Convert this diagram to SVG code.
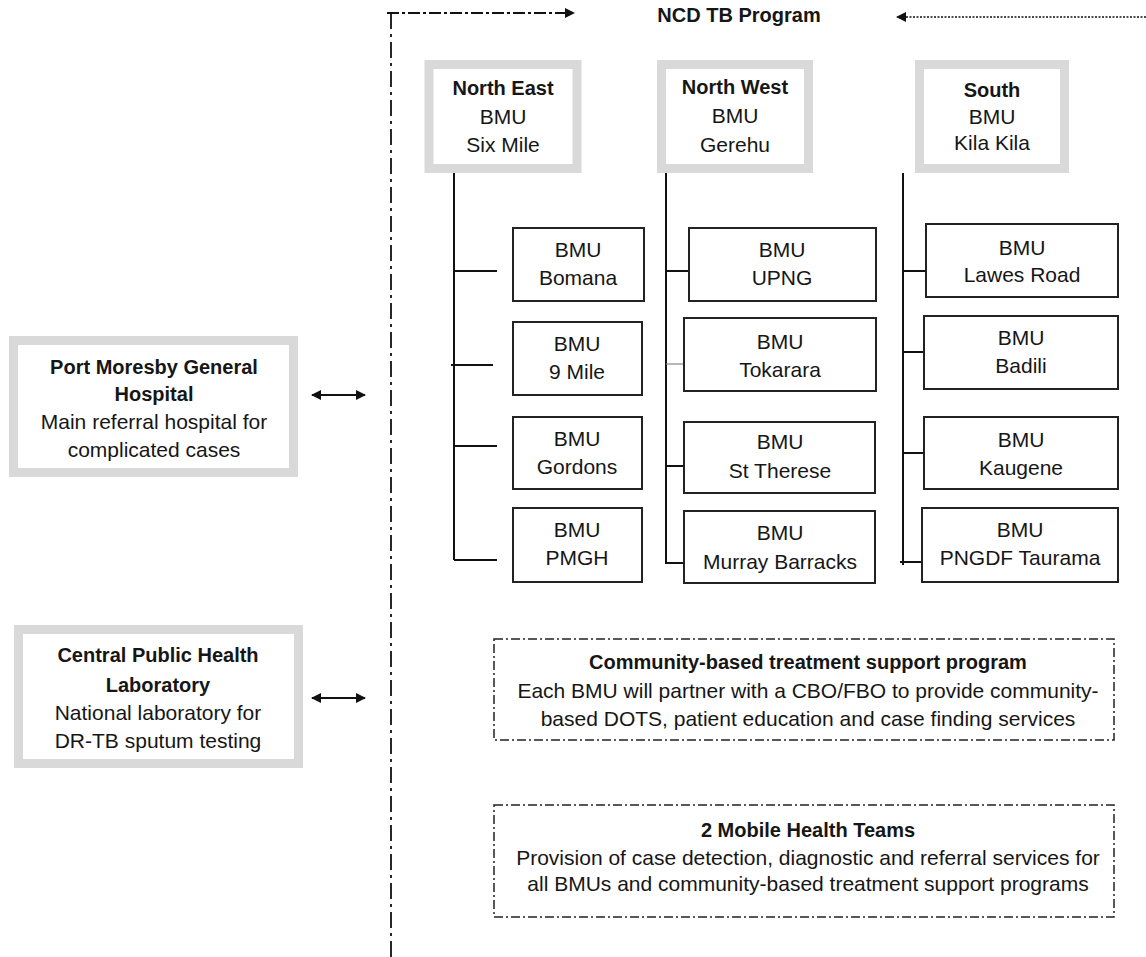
<svg xmlns="http://www.w3.org/2000/svg" width="1146" height="957" viewBox="0 0 1146 957">
<defs>
<style>
text{font-family:"Liberation Sans",Arial,sans-serif;fill:#161616;text-anchor:middle}
.b{font-weight:bold;font-size:20px}
.n{font-size:21px}
.gbox{fill:#fff;stroke:#d9d9d9;stroke-width:9}
.cbox{fill:#fff;stroke:#222;stroke-width:2}
.dbox{fill:none;stroke:#222;stroke-width:1.5;stroke-dasharray:9 3 2 3}
.ln{stroke:#111;stroke-width:2;fill:none}
</style>
<marker id="ah" viewBox="0 0 10 10" refX="9" refY="5" markerWidth="10" markerHeight="10" markerUnits="userSpaceOnUse" orient="auto-start-reverse">
<path d="M0,0 L10,5 L0,10 z" fill="#111"/>
</marker>
</defs>

<g id="connectors">
<path d="M387,13 H574" stroke="#111" stroke-width="1.8" stroke-dasharray="12 3 3 3" fill="none" marker-end="url(#ah)"/>
<path d="M391,13 V957" stroke="#111" stroke-width="1.8" stroke-dasharray="16 5 3 5" fill="none"/>
<path d="M1146,17 H897" stroke="#111" stroke-width="1.6" stroke-dasharray="2 1.5" fill="none" marker-end="url(#ah)"/>
<path d="M312,395 H365" stroke="#111" stroke-width="2" marker-start="url(#ah)" marker-end="url(#ah)"/>
<path d="M312,698 H365" stroke="#111" stroke-width="2" marker-start="url(#ah)" marker-end="url(#ah)"/>
<path class="ln" d="M454,173 V560 M454,271 H497 M451,365 H493 M454,446 H497 M454,560 H497"/>
<path class="ln" d="M666,173 V563 H684 M666,271 H689 M666,466 H684"/>
<path d="M666,364 H684" stroke="#888" stroke-width="1.2"/>
<path d="M695,389 H720" stroke="#111" stroke-width="3"/>
<path class="ln" d="M903,173 V565 M903,271 H930 M903,352 H930 M903,453 H930 M900,562 H927"/>
</g>

<g id="title"><text class="b" x="739" y="22">NCD TB Program</text></g>

<g id="ne"><rect class="gbox" x="429" y="64.5" width="148" height="104"/>
<text class="b" x="503" y="95">North East</text><text class="n" x="503" y="124">BMU</text><text class="n" x="503" y="152">Six Mile</text></g>
<g id="nw"><rect class="gbox" x="661.5" y="64.5" width="147" height="104"/>
<text class="b" x="735" y="94">North West</text><text class="n" x="735" y="123">BMU</text><text class="n" x="735" y="152">Gerehu</text></g>
<g id="south"><rect class="gbox" x="919.5" y="64.5" width="145" height="104"/>
<text class="b" x="992" y="97">South</text><text class="n" x="992" y="124">BMU</text><text class="n" x="992" y="150">Kila Kila</text></g>

<g id="bomana"><rect class="cbox" x="513" y="228" width="131" height="73"/><text class="n" x="578" y="257">BMU</text><text class="n" x="578" y="285">Bomana</text></g>
<g id="ninemile"><rect class="cbox" x="513" y="322" width="129" height="73"/><text class="n" x="577" y="351">BMU</text><text class="n" x="577" y="379">9 Mile</text></g>
<g id="gordons"><rect class="cbox" x="513" y="417" width="129" height="72"/><text class="n" x="577" y="446">BMU</text><text class="n" x="577" y="474">Gordons</text></g>
<g id="pmgh"><rect class="cbox" x="513" y="508" width="129" height="74"/><text class="n" x="577" y="537">BMU</text><text class="n" x="577" y="565">PMGH</text></g>

<g id="upng"><rect class="cbox" x="689" y="228" width="187" height="73"/><text class="n" x="782" y="257">BMU</text><text class="n" x="782" y="285">UPNG</text></g>
<g id="tokarara"><rect class="cbox" x="684" y="318" width="192" height="73"/><text class="n" x="780" y="349">BMU</text><text class="n" x="780" y="377">Tokarara</text></g>
<g id="sttherese"><rect class="cbox" x="684" y="422" width="191" height="71"/><text class="n" x="780" y="449">BMU</text><text class="n" x="780" y="478">St Therese</text></g>
<g id="murray"><rect class="cbox" x="684" y="511" width="191" height="72"/><text class="n" x="780" y="540">BMU</text><text class="n" x="780" y="569">Murray Barracks</text></g>

<g id="lawes"><rect class="cbox" x="926" y="224" width="192" height="73"/><text class="n" x="1022" y="255">BMU</text><text class="n" x="1022" y="282">Lawes Road</text></g>
<g id="badili"><rect class="cbox" x="924" y="316" width="194" height="73"/><text class="n" x="1021" y="345">BMU</text><text class="n" x="1021" y="373">Badili</text></g>
<g id="kaugene"><rect class="cbox" x="924" y="417" width="194" height="72"/><text class="n" x="1021" y="447">BMU</text><text class="n" x="1021" y="475">Kaugene</text></g>
<g id="pngdf"><rect class="cbox" x="922" y="508" width="196" height="74"/><text class="n" x="1020" y="537">BMU</text><text class="n" x="1020" y="565">PNGDF Taurama</text></g>

<g id="pmgh-hospital"><rect class="gbox" x="13.5" y="340.5" width="280" height="132"/>
<text class="b" x="154" y="374">Port Moresby General</text><text class="b" x="154" y="401">Hospital</text>
<text class="n" x="154" y="429">Main referral hospital for</text><text class="n" x="154" y="457">complicated cases</text></g>
<g id="cphl"><rect class="gbox" x="18.5" y="629.5" width="280" height="134"/>
<text class="b" x="158" y="662">Central Public Health</text><text class="b" x="158" y="692">Laboratory</text>
<text class="n" x="158" y="720">National laboratory for</text><text class="n" x="158" y="748">DR-TB sputum testing</text></g>

<g id="community"><rect class="dbox" x="494" y="639" width="620" height="101"/>
<text class="b" x="808" y="669">Community-based treatment support program</text>
<text class="n" x="808" y="698">Each BMU will partner with a CBO/FBO to provide community-</text>
<text class="n" x="808" y="726">based DOTS, patient education and case finding services</text></g>
<g id="mobile"><rect class="dbox" x="494" y="805" width="620" height="112"/>
<text class="b" x="808" y="837">2 Mobile Health Teams</text>
<text class="n" x="808" y="865">Provision of case detection, diagnostic and referral services for</text>
<text class="n" x="808" y="891">all BMUs and community-based treatment support programs</text></g>
</svg>
